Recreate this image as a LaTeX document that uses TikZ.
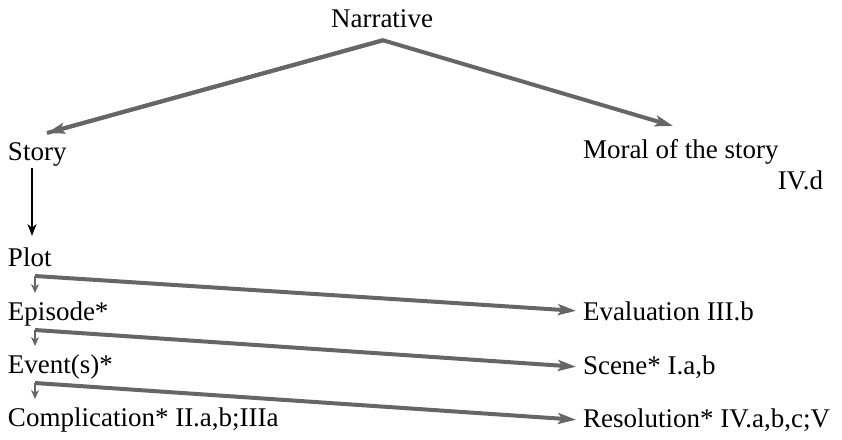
\documentclass[tikz,border=0pt]{standalone}
\usepackage{fontspec}
\setmainfont{Liberation Serif}
\usetikzlibrary{arrows.meta}
\definecolor{linegray}{HTML}{666666}
\begin{document}
\begin{tikzpicture}[x=1pt,y=-1pt,
  lbl/.style={inner sep=0pt, outer sep=0pt, font=\fontsize{27}{30}\selectfont, anchor=base west},
  conn/.style={draw=linegray, line width=4pt, -{Stealth[length=18pt,width=11pt,inset=4pt]}},
  smallarrow/.style={draw=linegray, line width=2pt, -{Stealth[length=9pt,width=8pt]}},
  blackarrow/.style={draw=black, line width=2.2pt, -{Stealth[length=12pt,width=9pt]}}]
\useasboundingbox (0,0) rectangle (842,439);

% labels
\node[lbl,anchor=base] (narr) at (382,27) {Narrative};
\node[lbl] (story) at (8,160) {Story};
\node[lbl] (moral) at (583,158) {Moral of the story};
\node[lbl,anchor=base east] (moralref) at (823,189) {IV.d};
\node[lbl] (plot) at (8,266) {Plot};
\node[lbl] (episode) at (8,320) {Episode*};
\node[lbl] (events) at (8,373) {Event(s)*};
\node[lbl] (compl) at (8,426) {Complication* II.a,b;IIIa};
\node[lbl] (eval) at (583,320) {Evaluation III.b};
\node[lbl] (scene) at (583,374) {Scene* I.a,b};
\node[lbl] (resol) at (583,427) {Resolution* IV.a,b,c;V};

% junction points
\coordinate (apex) at ([shift={(1,13)}]narr.south);
\coordinate (storytip) at ([shift={(39,-27)}]story.base west);
\coordinate (moraltip) at ([shift={(90,-32)}]moral.base west);
\coordinate (j1) at ([shift={(27,10)}]plot.base west);
\coordinate (j2) at ([shift={(27,10)}]episode.base west);
\coordinate (j3) at ([shift={(27,10)}]events.base west);

% connectors
\draw[conn, line join=miter] (storytip) -- (apex) -- (moraltip);
\draw[conn] (apex) -- (storytip);
\draw[blackarrow] ([shift={(24,8)}]story.base west) -- ([shift={(24,-30)}]plot.base west);
\draw[smallarrow] (j1) -- ([shift={(27,-27)}]episode.base west);
\draw[smallarrow] (j2) -- ([shift={(27,-27)}]events.base west);
\draw[smallarrow] (j3) -- ([shift={(27,-27)}]compl.base west);
\draw[conn] (j1) -- ([xshift=-7pt]eval.west);
\draw[conn] (j2) -- ([xshift=-7pt]scene.west);
\draw[conn] (j3) -- ([xshift=-7pt]resol.west);
\end{tikzpicture}
\end{document}
